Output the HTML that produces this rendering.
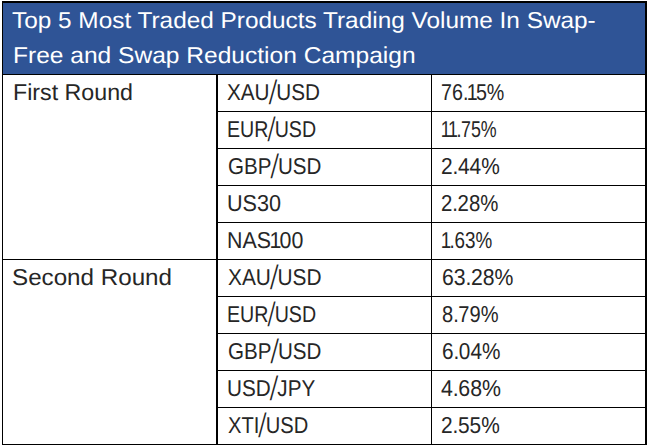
<!DOCTYPE html>
<html><head><meta charset="utf-8"><style>
html,body{margin:0;padding:0;background:#fff;}
body{width:649px;height:446px;position:relative;overflow:hidden;}
.r{position:absolute;}
.o{margin-left:-1.5px;margin-right:-2.0px;}
.s{display:inline-block;transform:skewX(-7deg) scaleY(1.47);transform-origin:50% 14.5px;margin:0 0.5px;}
.d{margin-right:-0.5px;}
.t{position:absolute;white-space:nowrap;font-family:"Liberation Sans",Arial,sans-serif;line-height:30px;transform-origin:0 0;text-rendering:geometricPrecision;}
</style></head><body>
<div class="r" style="left:3px;top:3px;width:642px;height:71px;background:#2F5496"></div>
<div class="r" style="left:2px;top:1px;width:645px;height:2px;background:#000"></div>
<div class="r" style="left:2px;top:1px;width:1px;height:444px;background:#000"></div>
<div class="r" style="left:645px;top:1px;width:2px;height:444px;background:#000"></div>
<div class="r" style="left:2px;top:444px;width:645px;height:1px;background:#000"></div>
<div class="r" style="left:2px;top:74px;width:645px;height:1px;background:#000"></div>
<div class="r" style="left:2px;top:259px;width:645px;height:1px;background:#000"></div>
<div class="r" style="left:216px;top:111px;width:431px;height:1px;background:#000"></div>
<div class="r" style="left:216px;top:148px;width:431px;height:1px;background:#000"></div>
<div class="r" style="left:216px;top:185px;width:431px;height:1px;background:#000"></div>
<div class="r" style="left:216px;top:222px;width:431px;height:1px;background:#000"></div>
<div class="r" style="left:216px;top:296px;width:431px;height:1px;background:#000"></div>
<div class="r" style="left:216px;top:333px;width:431px;height:1px;background:#000"></div>
<div class="r" style="left:216px;top:370px;width:431px;height:1px;background:#000"></div>
<div class="r" style="left:216px;top:407px;width:431px;height:1px;background:#000"></div>
<div class="r" style="left:216px;top:74px;width:2px;height:371px;background:#000"></div>
<div class="r" style="left:431px;top:74px;width:1px;height:371px;background:#000"></div>
<div class="t" style="left:11.50px;top:5.03px;font-size:23.00px;color:#fff;transform:scaleX(1.0593);">Top 5 Most Traded Products Trading Volume In Swap-</div>
<div class="t" style="left:12.50px;top:40.03px;font-size:23.00px;color:#fff;transform:scaleX(1.0675);">Free and Swap Reduction Campaign</div>
<div class="t" style="left:12.50px;top:77.03px;font-size:23.00px;color:#262626;transform:scaleX(1.0094);">First Round</div>
<div class="t" style="left:12.00px;top:262.03px;font-size:23.00px;color:#262626;transform:scaleX(1.0513);">Second Round</div>
<div class="t" style="left:227.00px;top:77.03px;font-size:23.00px;color:#262626;transform:scaleX(0.8999);">XAU<span class="s">/</span>USD</div>
<div class="t" style="left:441.00px;top:77.03px;font-size:23.00px;color:#262626;transform:scaleX(0.8561);">76<span class="d">.</span><span class="o">1</span>5%</div>
<div class="t" style="left:227.00px;top:114.03px;font-size:23.00px;color:#262626;transform:scaleX(0.8523);">EUR<span class="s">/</span>USD</div>
<div class="t" style="left:442.00px;top:114.03px;font-size:23.00px;color:#262626;transform:scaleX(0.7752);"><span class="o">1</span><span class="o">1</span><span class="d">.</span>75%</div>
<div class="t" style="left:227.50px;top:151.03px;font-size:23.00px;color:#262626;transform:scaleX(0.8931);">GBP<span class="s">/</span>USD</div>
<div class="t" style="left:441.00px;top:151.03px;font-size:23.00px;color:#262626;transform:scaleX(0.9082);">2<span class="d">.</span>44%</div>
<div class="t" style="left:227.00px;top:188.03px;font-size:23.00px;color:#262626;transform:scaleX(0.9393);">US30</div>
<div class="t" style="left:441.00px;top:188.03px;font-size:23.00px;color:#262626;transform:scaleX(0.8859);">2<span class="d">.</span>28%</div>
<div class="t" style="left:227.00px;top:225.03px;font-size:23.00px;color:#262626;transform:scaleX(0.9289);">NAS<span class="o">1</span>00</div>
<div class="t" style="left:442.00px;top:225.03px;font-size:23.00px;color:#262626;transform:scaleX(0.8197);"><span class="o">1</span><span class="d">.</span>63%</div>
<div class="t" style="left:227.50px;top:262.03px;font-size:23.00px;color:#262626;transform:scaleX(0.9058);">XAU<span class="s">/</span>USD</div>
<div class="t" style="left:442.00px;top:262.03px;font-size:23.00px;color:#262626;transform:scaleX(0.9218);">63<span class="d">.</span>28%</div>
<div class="t" style="left:227.00px;top:299.03px;font-size:23.00px;color:#262626;transform:scaleX(0.8523);">EUR<span class="s">/</span>USD</div>
<div class="t" style="left:441.50px;top:299.03px;font-size:23.00px;color:#262626;transform:scaleX(0.8731);">8<span class="d">.</span>79%</div>
<div class="t" style="left:227.50px;top:336.03px;font-size:23.00px;color:#262626;transform:scaleX(0.8931);">GBP<span class="s">/</span>USD</div>
<div class="t" style="left:442.00px;top:336.03px;font-size:23.00px;color:#262626;transform:scaleX(0.9023);">6<span class="d">.</span>04%</div>
<div class="t" style="left:227.00px;top:373.03px;font-size:23.00px;color:#262626;transform:scaleX(0.8998);">USD<span class="s">/</span>JPY</div>
<div class="t" style="left:441.00px;top:373.03px;font-size:23.00px;color:#262626;transform:scaleX(0.9268);">4<span class="d">.</span>68%</div>
<div class="t" style="left:227.50px;top:410.03px;font-size:23.00px;color:#262626;transform:scaleX(0.8749);">XTI<span class="s">/</span>USD</div>
<div class="t" style="left:441.00px;top:410.03px;font-size:23.00px;color:#262626;transform:scaleX(0.9082);">2<span class="d">.</span>55%</div>
</body></html>
